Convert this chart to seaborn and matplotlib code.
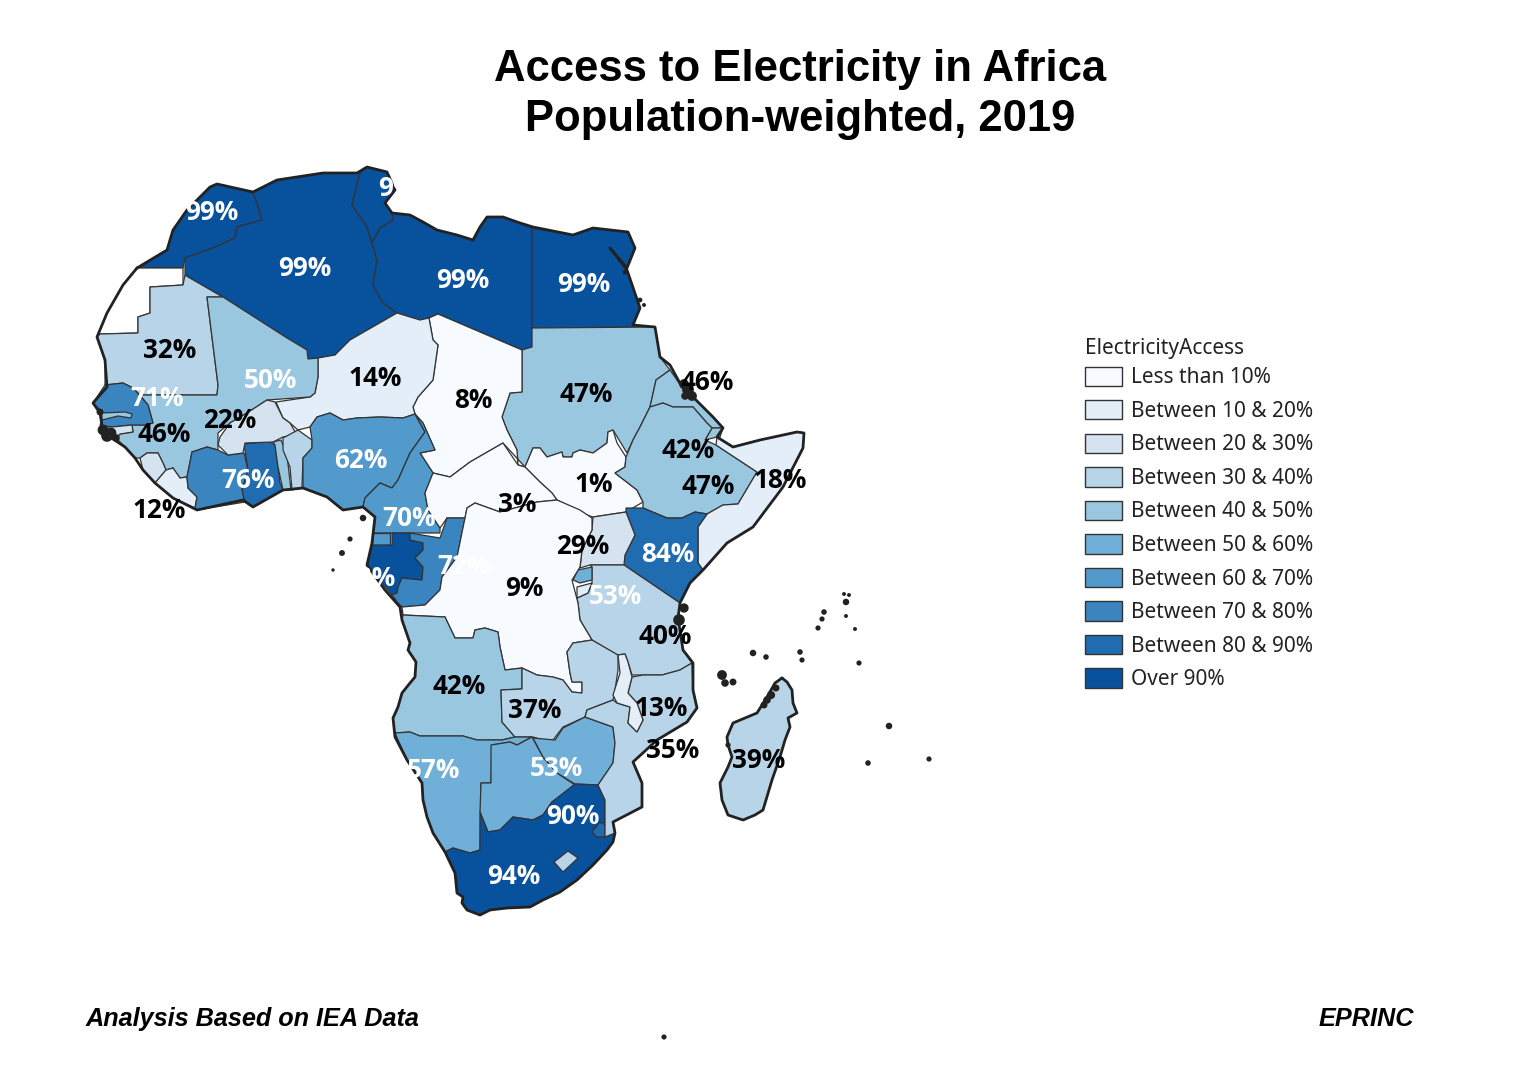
import matplotlib
matplotlib.use("Agg")
import matplotlib.pyplot as plt
from matplotlib.patches import Patch
import seaborn as sns

# legend classes and fills
bin_labels = ["Less than 10%", "Between 10 & 20%", "Between 20 & 30%", "Between 30 & 40%",
              "Between 40 & 50%", "Between 50 & 60%", "Between 60 & 70%", "Between 70 & 80%",
              "Between 80 & 90%", "Over 90%"]
bin_colors = ["#f7fbff", "#e3eef9", "#d5e2ef", "#b8d4e9", "#9ac7e0",
              "#6fafd8", "#5299cc", "#3a84bf", "#1f6cb0", "#08519c"]

# country outlines, in map units
morocco = [(138,268),(183,268),(185,258),(213,248),(235,238),(237,227),(262,220),(257,203),(253,192),
           (217,184),(210,187),(187,210),(173,230),(167,250)]
western_sahara = [(137,268),(183,268),(183,285),(150,287),(150,313),(138,317),(138,333),(100,334),(97,337),
                  (107,313),(123,285)]
mauritania = [(100,334),(138,333),(138,317),(150,313),(150,287),(183,285),(185,275),(223,297),(207,297),
              (218,385),(217,395),(182,395),(140,395),(133,388),(123,383),(105,385),(105,360),(97,337)]
algeria = [(185,258),(185,275),(223,297),(287,338),(307,350),(308,359),(318,358),(335,355),(350,340),(397,313),
           (383,303),(373,285),(377,260),(372,243),(367,227),(352,205),(360,173),(323,173),(277,180),(253,192),
           (257,203),(262,220),(237,227),(235,238),(213,248)]
tunisia = [(360,173),(352,205),(367,227),(372,243),(380,228),(393,220),(392,213),(385,203),(395,190),(387,172),(367,167)]
libya = [(372,243),(380,228),(393,220),(392,213),(410,215),(423,222),(437,230),(457,235),(473,240),(480,227),
         (487,217),(503,217),(520,223),(532,228),(532,350),(522,350),(438,314),(429,318),(420,320),(397,313),
         (383,303),(373,285),(377,260)]
egypt = [(532,228),(573,235),(593,228),(628,232),(635,248),(627,268),(610,248),(627,270),(640,308),(633,325),
         (655,327),(532,328)]
sudan = [(532,328),(655,327),(660,357),(670,370),(656,380),(650,407),(640,427),(633,440),(627,453),(613,430),
         (608,432),(607,443),(593,453),(580,450),(573,453),(572,457),(563,457),(562,452),(547,457),(540,448),
         (533,448),(525,467),(518,465),(517,450),(507,430),(502,417),(510,393),(522,392),(522,350),(532,347)]
south_sudan = [(525,467),(533,448),(540,448),(547,457),(562,452),(563,457),(572,457),(573,453),(580,450),(593,453),
               (607,443),(608,432),(613,430),(617,443),(626,457),(625,467),(615,473),(637,490),(643,502),(626,512),
               (593,517),(587,515),(557,500),(552,493),(540,482)]
eritrea = [(670,370),(682,387),(693,397),(713,417),(723,428),(712,428),(707,423),(693,407),(673,407),(663,403),
           (650,407),(656,380)]
djibouti = [(712,428),(723,428),(720,437),(717,437),(705,440)]
ethiopia = [(650,407),(663,403),(673,407),(693,407),(707,423),(712,428),(705,440),(716,445),(757,472),(738,504),
            (723,505),(707,514),(695,512),(682,518),(667,518),(643,508),(643,502),(637,490),(615,473),(625,467),
            (626,457),(633,440),(640,427)]
somalia = [(717,437),(733,447),(760,440),(797,432),(804,433),(803,448),(783,487),(753,527),(727,543),(703,570),
           (698,563),(698,527),(707,514),(723,505),(738,504),(757,472),(716,445)]
kenya = [(626,508),(643,508),(667,518),(682,518),(695,512),(707,514),(698,527),(698,563),(703,570),(690,583),
         (680,603),(624,565),(625,555),(635,535),(626,512)]
uganda = [(593,517),(626,512),(635,535),(625,555),(624,565),(590,565),(580,568),(582,550),(592,530)]
tanzania = [(590,565),(624,565),(680,603),(678,618),(683,650),(692,663),(680,670),(662,675),(643,675),(632,675),
            (628,662),(625,654),(617,655),(592,640),(580,620),(578,603),(577,598),(588,593),(592,583),(592,567)]
rwanda = [(573,580),(578,570),(592,567),(592,580),(580,583)]
burundi = [(577,587),(592,583),(588,593),(577,598)]
chad = [(429,318),(438,314),(522,350),(522,392),(510,393),(502,417),(507,430),(517,450),(518,465),(525,467),
        (503,443),(470,462),(450,477),(433,473),(420,453),(435,450),(423,423),(415,414),(413,407),(418,397),
        (433,380),(438,345),(433,340)]
niger = [(276,402),(310,397),(315,393),(318,377),(318,358),(335,355),(350,340),(397,313),(420,320),(429,318),
         (433,340),(438,345),(433,380),(418,397),(413,407),(415,414),(403,418),(380,417),(357,418),(343,420),
         (330,413),(317,417),(310,427),(298,430),(290,423),(283,418)]
mali_guinea = [(207,297),(223,297),(287,338),(307,350),(308,359),(318,358),(318,377),(315,393),(310,397),(267,400),
               (247,413),(230,423),(218,433),(218,445),(218,450),(207,447),(192,452),(187,477),(180,478),(173,468),
               (166,470),(163,463),(158,453),(147,453),(140,458),(135,458),(125,447),(116,438),(120,434),(133,432),
               (132,425),(145,425),(153,423),(148,405),(140,395),(182,395),(217,395),(218,385)]
senegal = [(105,385),(123,383),(133,388),(148,405),(153,423),(145,425),(132,425),(112,427),(100,425),(103,418),
           (102,412),(93,403)]
gambia = [(102,413),(125,412),(132,414),(131,418),(118,416),(102,420)]
guinea_bissau = [(100,427),(112,427),(132,425),(133,432),(120,434),(116,438),(108,432)]
sierra_leone = [(140,458),(147,453),(158,453),(163,463),(166,470),(155,483),(143,470)]
liberia = [(155,483),(166,470),(173,468),(180,478),(187,477),(188,488),(197,497),(195,508),(173,498)]
ivory_coast = [(192,452),(207,447),(218,450),(228,455),(244,453),(248,470),(242,490),(245,502),(197,510),(195,508),
               (197,497),(188,488),(187,477)]
ghana = [(244,444),(268,441),(275,445),(278,467),(280,483),(283,490),(253,507),(245,502),(242,490),(248,470)]
burkina = [(220,437),(218,445),(228,455),(243,453),(245,443),(273,442),(283,437),(297,435),(290,423),(283,418),
           (275,402),(267,400),(247,413),(230,423)]
togo = [(273,442),(281,440),(287,455),(291,490),(283,490),(278,467),(275,445)]
benin = [(283,438),(298,430),(312,440),(312,448),(303,458),(302,488),(292,490),(290,467),(283,450)]
nigeria = [(317,417),(330,413),(343,420),(357,418),(380,417),(403,418),(415,414),(425,432),(410,453),(398,480),
           (392,488),(380,483),(365,498),(363,507),(343,510),(327,497),(303,488),(303,458),(312,448),(312,440),(310,427)]
cameroon = [(415,414),(423,423),(435,450),(420,453),(433,473),(425,493),(428,510),(440,528),(440,533),(373,533),
            (375,517),(363,507),(365,498),(380,483),(392,488),(398,480),(410,453),(425,432)]
car = [(425,493),(433,473),(450,477),(470,462),(503,443),(518,465),(525,467),(540,482),(552,493),(557,500),
       (537,502),(500,512),(475,503),(467,508),(465,518),(447,518),(440,528),(428,510)]
eq_guinea = [(373,533),(390,533),(390,545),(372,545)]
gabon = [(372,545),(392,545),(392,533),(410,533),(410,540),(423,543),(423,550),(415,558),(423,567),(422,580),
         (402,578),(398,587),(397,593),(392,595),(367,565)]
congo = [(410,533),(440,538),(447,518),(465,518),(457,557),(442,577),(440,590),(425,605),(402,607),(398,603),
         (392,595),(397,593),(398,587),(402,578),(422,580),(423,567),(415,558),(423,550),(423,543),(410,540)]
drc = [(465,518),(467,508),(475,503),(500,512),(537,502),(557,500),(580,510),(592,518),(592,530),(582,550),
       (580,567),(572,580),(578,603),(580,620),(592,640),(573,643),(567,652),(570,673),(572,682),(582,682),
       (582,693),(572,692),(563,680),(553,677),(537,675),(522,668),(505,670),(500,647),(498,632),(485,628),
       (475,630),(473,638),(455,638),(445,617),(403,615),(402,607),(425,605),(440,590),(442,577),(457,557)]
angola = [(403,615),(445,617),(455,638),(473,638),(475,630),(485,628),(498,632),(500,647),(505,670),(522,668),
          (522,689),(501,690),(502,722),(515,737),(502,740),(477,740),(463,736),(420,736),(410,732),(395,733),
          (393,718),(398,707),(402,693),(410,683),(415,677),(416,662),(408,650),(410,643),(402,620)]
zambia = [(522,668),(522,689),(501,690),(502,722),(515,737),(533,737),(543,740),(553,740),(563,727),(585,717),
          (587,710),(613,700),(615,690),(618,670),(618,655),(592,640),(573,643),(567,652),(570,673),(572,682),
          (582,682),(582,693),(572,692),(563,680),(553,677),(537,675)]
namibia = [(395,733),(410,732),(420,736),(463,736),(477,740),(502,740),(515,737),(532,737),(517,745),(510,742),
           (492,745),(491,783),(481,783),(480,850),(470,853),(453,848),(445,852),(433,833),(427,817),(423,800),
           (422,783),(407,760)]
botswana = [(491,745),(510,742),(517,745),(532,737),(543,757),(557,773),(575,785),(552,802),(543,815),(533,820),
            (513,817),(500,830),(488,832),(480,812),(481,783),(491,783)]
zimbabwe = [(533,738),(555,740),(563,728),(585,717),(613,727),(615,743),(613,763),(598,785),(575,784),(557,773),(543,757)]
south_africa = [(445,852),(453,848),(470,853),(480,850),(480,812),(488,832),(500,830),(513,817),(533,820),(543,815),
                (552,802),(575,784),(598,785),(605,800),(605,825),(593,828),(597,837),(605,837),(615,833),(613,842),
                (607,850),(593,865),(577,880),(560,892),(543,900),(530,907),(507,908),(490,910),(480,915),(467,910),
                (462,903),(463,897),(457,893),(455,873)]
swaziland = [(592,832),(600,822),(605,825),(605,837),(597,837)]
lesotho = [(554,862),(568,851),(578,858),(563,872)]
mozambique = [(692,663),(693,690),(697,708),(687,722),(657,740),(633,762),(642,783),(642,807),(613,822),(615,833),
              (605,837),(605,800),(598,785),(613,763),(615,743),(613,727),(585,717),(587,710),(613,700),(617,703),
              (630,707),(628,723),(637,732),(643,720),(637,703),(628,693),(632,677),(643,675),(662,675),(680,670)]
malawi = [(618,655),(625,654),(628,662),(632,677),(628,693),(637,703),(643,720),(637,732),(628,723),(630,707),
          (617,703),(613,695),(620,673)]
madagascar = [(782,678),(787,682),(792,690),(793,703),(797,713),(788,718),(790,727),(785,740),(780,757),(772,780),
              (763,810),(755,815),(743,820),(728,815),(722,800),(720,783),(728,767),(732,757),(728,745),(727,737),
              (733,723),(757,713),(767,697),(775,683)]

country_shapes = [morocco, western_sahara, mauritania, algeria, tunisia, libya, egypt, sudan, south_sudan, eritrea,
                  djibouti, ethiopia, somalia, kenya, uganda, tanzania, rwanda, burundi, chad, niger, mali_guinea,
                  senegal, gambia, guinea_bissau, sierra_leone, liberia, ivory_coast, ghana, burkina, togo, benin,
                  nigeria, cameroon, car, eq_guinea, gabon, congo, drc, angola, zambia, namibia, botswana, zimbabwe,
                  south_africa, swaziland, lesotho, mozambique, malawi, madagascar]
# None = no data, left white
country_bins = [9, None, 3, 9, 9, 9, 9, 4, 0, 4,
                4, 4, 1, 8, 2, 3, 5, 1, 0, 1, 4,
                7, 4, 2, 2, 1, 7, 8, 2, 4, 3,
                6, 6, 0, 6, 9, 7, 0, 4, 3, 5, 5, 5,
                9, 8, 3, 3, 1, 3]

coastline = [(137,268),(167,250),(173,230),(187,210),(210,187),(217,184),(253,192),(277,180),(323,173),(357,173),
             (367,167),(387,172),(395,190),(385,203),(392,213),(410,215),(423,222),(437,230),(457,235),(473,240),
             (480,227),(487,217),(503,217),(520,223),(533,227),(573,235),(593,228),(628,232),(635,248),(627,268),
             (610,248),(627,270),(640,308),(633,325),(655,327),(660,357),(670,365),(682,387),(693,397),(713,417),
             (723,428),(717,437),(733,447),(760,440),(797,432),(804,433),(803,448),(783,487),(753,527),(727,543),
             (703,570),(690,583),(680,603),(678,618),(683,650),(693,663),(693,690),(697,708),(687,722),(657,740),
             (633,762),(642,783),(642,807),(613,822),(615,833),(613,842),(607,850),(593,865),(577,880),(560,892),
             (543,900),(530,907),(507,908),(490,910),(480,915),(467,910),(462,903),(463,897),(457,893),(455,873),
             (445,852),(433,833),(427,817),(423,800),(422,783),(407,760),(395,737),(393,718),(398,707),(402,693),
             (410,683),(415,677),(416,662),(408,650),(410,643),(402,620),(400,607),(385,590),(367,565),(372,543),
             (375,517),(363,507),(343,510),(327,497),(303,488),(283,490),(253,507),(243,500),(197,510),(173,498),
             (155,483),(143,470),(135,458),(125,447),(110,437),(103,432),(100,413),(93,403),(107,387),(105,360),
             (97,337),(107,313),(123,285),(137,268)]

# small islands and reef clusters
island_x = [103, 107, 111, 116, 100, 684, 688, 692, 685, 684, 679, 722, 725, 733, 753, 766, 800, 802, 818, 822, 824,
            846, 844, 849, 846, 855, 859, 889, 868, 929, 363, 350, 342, 333, 664, 625, 640, 644,
            771, 767, 776, 764, 728]
island_y = [430, 436, 433, 438, 412, 384, 390, 396, 396, 608, 620, 675, 683, 682, 653, 657, 652, 660, 628, 619, 612,
            602, 594, 595, 616, 629, 663, 726, 763, 759, 518, 539, 553, 570, 1037, 272, 300, 305,
            695, 700, 688, 705, 745]
island_size = [60, 70, 60, 30, 25, 50, 70, 50, 30, 45, 70, 50, 30, 25, 22, 16, 16, 14, 14, 14, 16,
               22, 8, 8, 8, 8, 14, 22, 16, 14, 22, 14, 18, 6, 14, 12, 12, 8,
               35, 30, 25, 25, 14]

# percentage labels
label_values = [99, 99, 99, 99, 99, 32, 50, 14, 8, 47, 46, 71, 46, 22, 76, 62, 12, 70, 3, 1, 47, 42, 18, 84, 29,
                9, 72, 93, 53, 40, 42, 37, 13, 35, 39, 57, 53, 90, 94]
label_x = [212, 305, 405, 463, 584, 170, 270, 375, 473, 586, 707, 157, 164, 230, 248, 361, 159, 409, 517, 594, 708,
           688, 780, 668, 583, 524, 464, 369, 615, 665, 459, 535, 661, 673, 759, 433, 556, 573, 514]
label_y = [210, 265, 186, 277, 281, 347, 377, 376, 398, 391, 380, 395, 431, 417, 478, 457, 507, 515, 502, 481, 484,
           448, 477, 551, 543, 586, 564, 576, 594, 634, 684, 708, 706, 748, 757, 768, 766, 814, 873]

sns.set_theme(style="white")
palette = sns.color_palette(bin_colors)

fig = plt.figure(figsize=(15.27, 10.8), dpi=100)
ax = fig.add_axes([0, 0, 1, 1])
ax.set_xlim(0, 1527)
ax.set_ylim(1080, 0)
ax.axis("off")

for shape, b in zip(country_shapes, country_bins):
    xs, ys = zip(*shape)
    face = "white" if b is None else palette[b]
    ax.fill(xs, ys, facecolor=face, edgecolor="#333333", linewidth=0.9, zorder=2)

# heavier coast on top
cx, cy = zip(*coastline)
ax.plot(cx, cy, color="#222222", linewidth=2.0, zorder=3)
mx, my = zip(*(madagascar + madagascar[:1]))
ax.plot(mx, my, color="#222222", linewidth=2.0, zorder=3)
sns.scatterplot(x=island_x, y=island_y, s=island_size, color="#222222", linewidth=0, ax=ax, zorder=3, legend=False)

for v, x, y in zip(label_values, label_x, label_y):
    ax.text(x, y, f"{v}%", ha="center", va="center_baseline", fontsize=18.8, fontweight="bold", family="Open Sans",
            color="white" if v >= 50 else "black", zorder=5)

ax.text(800, 69, "Access to Electricity in Africa", ha="center", va="center", fontsize=31.4, fontweight="bold",
        family="Liberation Sans", color="black")
ax.text(800, 119, "Population-weighted, 2019", ha="center", va="center", fontsize=31.4, fontweight="bold",
        family="Liberation Sans", color="black")
ax.text(86, 1019, "Analysis Based on IEA Data", ha="left", va="center", fontsize=18.2, fontweight="bold",
        style="italic", family="Liberation Sans", color="black")
ax.text(1414, 1019, "EPRINC", ha="right", va="center", fontsize=18.2, fontweight="bold",
        style="italic", family="Liberation Sans", color="black")

handles = [Patch(facecolor=c, edgecolor="#333333", linewidth=1.0, label=l) for c, l in zip(palette, bin_labels)]
leg = ax.legend(handles=handles, title="ElectricityAccess", loc="upper left", bbox_to_anchor=(1077 / 1527, 1 - 330 / 1080),
                frameon=False, prop={"family": "Noto Sans", "size": 15}, handlelength=1.75, handleheight=1.05,
                labelspacing=0.565, handletextpad=0.46, borderaxespad=0, alignment="left")
leg.get_title().set_fontfamily("Noto Sans")
leg.get_title().set_fontsize(15)
leg.get_title().set_color("#222222")
leg._legend_box.sep = 5.2
for t in leg.get_texts():
    t.set_color("#222222")

fig.savefig("out.png", dpi=100)
